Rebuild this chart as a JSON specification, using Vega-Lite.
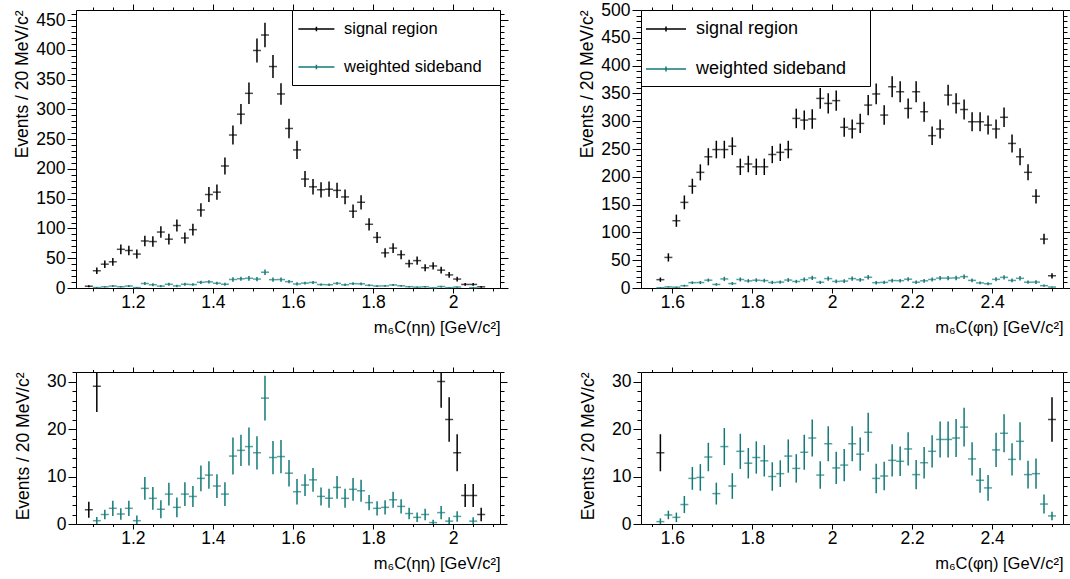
{
"$schema": "https://vega.github.io/schema/vega-lite/v6.json",
"background": "white",
"padding": {"left": 13, "top": 0, "right": 0, "bottom": 0},
"config": {
 "font": "Liberation Sans",
 "view": {"stroke": "#000000", "strokeWidth": 1},
 "axis": {"domain": false, "grid": false, "tickColor": "#000000", "labelColor": "#000000", "titleColor": "#000000", "labelFont": "Liberation Sans", "titleFont": "Liberation Sans", "labelFontSize": 17.5, "titleFontSize": 17.5, "titleFontWeight": "normal", "tickWidth": 1, "labelOverlap": false, "labelFlush": false},
 "legend": {"labelFont": "Liberation Sans", "labelColor": "#000000", "labelLimit": 300}
},
"datasets": {
"eta": [
{"m":1.09,"v":3,"e":1.7,"s":"S"},{"m":1.11,"v":29,"e":5.4,"s":"S"},{"m":1.13,"v":40,"e":6.3,"s":"S"},{"m":1.15,"v":44,"e":6.6,"s":"S"},{"m":1.17,"v":65,"e":8.1,"s":"S"},{"m":1.19,"v":63,"e":7.9,"s":"S"},{"m":1.21,"v":57,"e":7.5,"s":"S"},{"m":1.23,"v":79,"e":8.9,"s":"S"},{"m":1.25,"v":78,"e":8.8,"s":"S"},{"m":1.27,"v":94,"e":9.7,"s":"S"},{"m":1.29,"v":82,"e":9.1,"s":"S"},{"m":1.31,"v":105,"e":10.2,"s":"S"},{"m":1.33,"v":84,"e":9.2,"s":"S"},{"m":1.35,"v":98,"e":9.9,"s":"S"},{"m":1.37,"v":131,"e":11.4,"s":"S"},{"m":1.39,"v":157,"e":12.5,"s":"S"},{"m":1.41,"v":161,"e":12.7,"s":"S"},{"m":1.43,"v":205,"e":14.3,"s":"S"},{"m":1.45,"v":257,"e":16.0,"s":"S"},{"m":1.47,"v":292,"e":17.1,"s":"S"},{"m":1.49,"v":327,"e":18.1,"s":"S"},{"m":1.51,"v":399,"e":20.0,"s":"S"},{"m":1.53,"v":425,"e":20.6,"s":"S"},{"m":1.55,"v":372,"e":19.3,"s":"S"},{"m":1.57,"v":326,"e":18.1,"s":"S"},{"m":1.59,"v":268,"e":16.4,"s":"S"},{"m":1.61,"v":232,"e":15.2,"s":"S"},{"m":1.63,"v":183,"e":13.5,"s":"S"},{"m":1.65,"v":170,"e":13.0,"s":"S"},{"m":1.67,"v":165,"e":12.8,"s":"S"},{"m":1.69,"v":166,"e":12.9,"s":"S"},{"m":1.71,"v":164,"e":12.8,"s":"S"},{"m":1.73,"v":153,"e":12.4,"s":"S"},{"m":1.75,"v":129,"e":11.4,"s":"S"},{"m":1.77,"v":144,"e":12.0,"s":"S"},{"m":1.79,"v":107,"e":10.3,"s":"S"},{"m":1.81,"v":85,"e":9.2,"s":"S"},{"m":1.83,"v":59,"e":7.7,"s":"S"},{"m":1.85,"v":67,"e":8.2,"s":"S"},{"m":1.87,"v":56,"e":7.5,"s":"S"},{"m":1.89,"v":41,"e":6.4,"s":"S"},{"m":1.91,"v":46,"e":6.8,"s":"S"},{"m":1.93,"v":34,"e":5.8,"s":"S"},{"m":1.95,"v":37,"e":6.1,"s":"S"},{"m":1.97,"v":30,"e":5.5,"s":"S"},{"m":1.99,"v":22,"e":4.7,"s":"S"},{"m":2.01,"v":15,"e":3.9,"s":"S"},{"m":2.03,"v":6,"e":2.4,"s":"S"},{"m":2.05,"v":6,"e":2.4,"s":"S"},{"m":2.07,"v":2,"e":1.4,"s":"S"},
{"m":1.11,"v":0.7,"e":0.8,"s":"B"},{"m":1.13,"v":2.0,"e":1.0,"s":"B"},{"m":1.15,"v":3.3,"e":1.6,"s":"B"},{"m":1.17,"v":2.1,"e":1.2,"s":"B"},{"m":1.19,"v":3.3,"e":1.6,"s":"B"},{"m":1.21,"v":0.7,"e":1.1,"s":"B"},{"m":1.23,"v":7.5,"e":2.4,"s":"B"},{"m":1.25,"v":5.4,"e":2.4,"s":"B"},{"m":1.27,"v":3.1,"e":1.9,"s":"B"},{"m":1.29,"v":6.3,"e":2.4,"s":"B"},{"m":1.31,"v":3.5,"e":2.1,"s":"B"},{"m":1.33,"v":6.3,"e":2.5,"s":"B"},{"m":1.35,"v":5.8,"e":2.2,"s":"B"},{"m":1.37,"v":9.6,"e":2.7,"s":"B"},{"m":1.39,"v":10.3,"e":2.9,"s":"B"},{"m":1.41,"v":8.0,"e":2.5,"s":"B"},{"m":1.43,"v":6.3,"e":2.5,"s":"B"},{"m":1.45,"v":14.3,"e":3.9,"s":"B"},{"m":1.47,"v":15.5,"e":3.3,"s":"B"},{"m":1.49,"v":16.3,"e":4.0,"s":"B"},{"m":1.51,"v":15.0,"e":3.5,"s":"B"},{"m":1.53,"v":26.5,"e":4.7,"s":"B"},{"m":1.55,"v":14.0,"e":3.5,"s":"B"},{"m":1.57,"v":14.2,"e":3.5,"s":"B"},{"m":1.59,"v":10.7,"e":2.8,"s":"B"},{"m":1.61,"v":6.8,"e":2.7,"s":"B"},{"m":1.63,"v":8.2,"e":2.3,"s":"B"},{"m":1.65,"v":9.3,"e":2.5,"s":"B"},{"m":1.67,"v":5.8,"e":1.9,"s":"B"},{"m":1.69,"v":5.4,"e":2.0,"s":"B"},{"m":1.71,"v":7.7,"e":2.4,"s":"B"},{"m":1.73,"v":5.4,"e":2.0,"s":"B"},{"m":1.75,"v":7.3,"e":2.4,"s":"B"},{"m":1.77,"v":7.0,"e":2.3,"s":"B"},{"m":1.79,"v":4.5,"e":1.6,"s":"B"},{"m":1.81,"v":3.3,"e":1.5,"s":"B"},{"m":1.83,"v":3.5,"e":1.5,"s":"B"},{"m":1.85,"v":5.1,"e":1.7,"s":"B"},{"m":1.87,"v":3.7,"e":1.5,"s":"B"},{"m":1.89,"v":2.2,"e":1.2,"s":"B"},{"m":1.91,"v":1.4,"e":1.0,"s":"B"},{"m":1.93,"v":2.0,"e":1.2,"s":"B"},{"m":1.95,"v":0.3,"e":0.6,"s":"B"},{"m":1.97,"v":2.4,"e":1.4,"s":"B"},{"m":1.99,"v":0.6,"e":0.8,"s":"B"},{"m":2.01,"v":1.6,"e":1.1,"s":"B"},{"m":2.05,"v":0.6,"e":0.8,"s":"B"}
],
"phi": [
{"m":1.57,"v":15,"e":3.9,"s":"S"},{"m":1.59,"v":55,"e":7.4,"s":"S"},{"m":1.61,"v":121,"e":11.0,"s":"S"},{"m":1.63,"v":154,"e":12.4,"s":"S"},{"m":1.65,"v":183,"e":13.5,"s":"S"},{"m":1.67,"v":208,"e":14.4,"s":"S"},{"m":1.69,"v":236,"e":15.4,"s":"S"},{"m":1.71,"v":249,"e":15.8,"s":"S"},{"m":1.73,"v":249,"e":15.8,"s":"S"},{"m":1.75,"v":255,"e":16.0,"s":"S"},{"m":1.77,"v":218,"e":14.8,"s":"S"},{"m":1.79,"v":223,"e":14.9,"s":"S"},{"m":1.81,"v":218,"e":14.8,"s":"S"},{"m":1.83,"v":218,"e":14.8,"s":"S"},{"m":1.85,"v":240,"e":15.5,"s":"S"},{"m":1.87,"v":244,"e":15.6,"s":"S"},{"m":1.89,"v":249,"e":15.8,"s":"S"},{"m":1.91,"v":305,"e":17.5,"s":"S"},{"m":1.93,"v":302,"e":17.4,"s":"S"},{"m":1.95,"v":304,"e":17.4,"s":"S"},{"m":1.97,"v":341,"e":18.5,"s":"S"},{"m":1.99,"v":332,"e":18.2,"s":"S"},{"m":2.01,"v":337,"e":18.4,"s":"S"},{"m":2.03,"v":289,"e":17.0,"s":"S"},{"m":2.05,"v":286,"e":16.9,"s":"S"},{"m":2.07,"v":296,"e":17.2,"s":"S"},{"m":2.09,"v":329,"e":18.1,"s":"S"},{"m":2.11,"v":349,"e":18.7,"s":"S"},{"m":2.13,"v":311,"e":17.6,"s":"S"},{"m":2.15,"v":362,"e":19.0,"s":"S"},{"m":2.17,"v":353,"e":18.8,"s":"S"},{"m":2.19,"v":323,"e":18.0,"s":"S"},{"m":2.21,"v":353,"e":18.8,"s":"S"},{"m":2.23,"v":317,"e":17.8,"s":"S"},{"m":2.25,"v":274,"e":16.6,"s":"S"},{"m":2.27,"v":286,"e":16.9,"s":"S"},{"m":2.29,"v":347,"e":18.6,"s":"S"},{"m":2.31,"v":332,"e":18.2,"s":"S"},{"m":2.33,"v":321,"e":17.9,"s":"S"},{"m":2.35,"v":299,"e":17.3,"s":"S"},{"m":2.37,"v":299,"e":17.3,"s":"S"},{"m":2.39,"v":293,"e":17.1,"s":"S"},{"m":2.41,"v":286,"e":16.9,"s":"S"},{"m":2.43,"v":307,"e":17.5,"s":"S"},{"m":2.45,"v":260,"e":16.1,"s":"S"},{"m":2.47,"v":236,"e":15.4,"s":"S"},{"m":2.49,"v":208,"e":14.4,"s":"S"},{"m":2.51,"v":165,"e":12.8,"s":"S"},{"m":2.53,"v":88,"e":9.4,"s":"S"},{"m":2.55,"v":22,"e":4.7,"s":"S"},
{"m":1.57,"v":0.5,"e":0.7,"s":"B"},{"m":1.59,"v":1.9,"e":0.9,"s":"B"},{"m":1.61,"v":1.4,"e":1.0,"s":"B"},{"m":1.63,"v":4.1,"e":1.8,"s":"B"},{"m":1.65,"v":9.6,"e":2.4,"s":"B"},{"m":1.67,"v":9.8,"e":2.8,"s":"B"},{"m":1.69,"v":14.1,"e":3.0,"s":"B"},{"m":1.71,"v":6.4,"e":2.3,"s":"B"},{"m":1.73,"v":16.3,"e":3.9,"s":"B"},{"m":1.75,"v":8.0,"e":2.7,"s":"B"},{"m":1.77,"v":15.3,"e":3.7,"s":"B"},{"m":1.79,"v":12.8,"e":3.2,"s":"B"},{"m":1.81,"v":14.0,"e":3.4,"s":"B"},{"m":1.83,"v":13.3,"e":3.3,"s":"B"},{"m":1.85,"v":10.0,"e":3.0,"s":"B"},{"m":1.87,"v":10.6,"e":2.8,"s":"B"},{"m":1.89,"v":14.3,"e":3.5,"s":"B"},{"m":1.91,"v":11.7,"e":3.0,"s":"B"},{"m":1.93,"v":15.1,"e":3.7,"s":"B"},{"m":1.95,"v":18.1,"e":3.9,"s":"B"},{"m":1.97,"v":10.3,"e":2.9,"s":"B"},{"m":1.99,"v":16.9,"e":3.7,"s":"B"},{"m":2.01,"v":11.8,"e":3.4,"s":"B"},{"m":2.03,"v":12.4,"e":3.4,"s":"B"},{"m":2.05,"v":16.9,"e":3.7,"s":"B"},{"m":2.07,"v":14.7,"e":3.5,"s":"B"},{"m":2.09,"v":19.3,"e":4.1,"s":"B"},{"m":2.11,"v":9.6,"e":3.1,"s":"B"},{"m":2.13,"v":10.1,"e":3.0,"s":"B"},{"m":2.15,"v":13.4,"e":3.4,"s":"B"},{"m":2.17,"v":13.2,"e":3.1,"s":"B"},{"m":2.19,"v":15.8,"e":3.5,"s":"B"},{"m":2.21,"v":10.4,"e":3.1,"s":"B"},{"m":2.23,"v":12.9,"e":3.3,"s":"B"},{"m":2.25,"v":15.3,"e":3.4,"s":"B"},{"m":2.27,"v":17.8,"e":3.8,"s":"B"},{"m":2.29,"v":17.8,"e":3.8,"s":"B"},{"m":2.31,"v":18.1,"e":4.0,"s":"B"},{"m":2.33,"v":20.4,"e":4.1,"s":"B"},{"m":2.35,"v":13.7,"e":3.5,"s":"B"},{"m":2.37,"v":9.2,"e":2.6,"s":"B"},{"m":2.39,"v":7.6,"e":2.7,"s":"B"},{"m":2.41,"v":15.6,"e":3.6,"s":"B"},{"m":2.43,"v":19.1,"e":4.0,"s":"B"},{"m":2.45,"v":13.6,"e":3.4,"s":"B"},{"m":2.47,"v":17.4,"e":4.0,"s":"B"},{"m":2.49,"v":10.4,"e":2.9,"s":"B"},{"m":2.51,"v":10.6,"e":3.2,"s":"B"},{"m":2.53,"v":4.2,"e":2.0,"s":"B"},{"m":2.55,"v":1.7,"e":0.9,"s":"B"}
]
},
"columns": 2,
"align": "each",
"spacing": {"row": 29, "column": 69},
"concat": [
{
 "width": 424, "height": 278,
 "data": {"name": "eta"},
 "resolve": {"axis": {"x": "independent", "y": "independent"}},
 "layer": [
  {"transform": [{"filter": "datum.s=='S'"}],
   "mark": {"type": "errorbar", "thickness": 1.5},
   "encoding": {
    "x": {"field": "m", "type": "quantitative", "scale": {"domain": [1.058, 2.117], "nice": false, "zero": false}, "axis": {"orient": "bottom", "values": [1.2,1.4,1.6,1.8,2], "format": "~g", "tickSize": 5, "labelPadding": 0, "title": "m₆C(ηη) [GeV/c²]", "titleAnchor": "end", "titlePadding": 9, "titleFontSize": 16.5}},
    "y": {"field": "v", "type": "quantitative", "scale": {"domain": [0, 467], "nice": false}, "axis": {"orient": "left", "values": [0,50,100,150,200,250,300,350,400,450], "tickSize": 9, "labelPadding": 2, "title": "Events / 20 MeV/c²", "titleAnchor": "end", "titlePadding": 4}},
    "yError": {"field": "e"},
    "color": {"field": "s", "type": "nominal", "scale": {"domain": ["S","B"], "range": ["#000000","#127a78"]}, "legend": {"orient": "top-right", "offset": 0, "title": null, "fillColor": "white", "strokeColor": "#000000", "padding": 9, "symbolType": "M-1.4,0H2.6M0.6,-0.25V0.25", "symbolSize": 324, "symbolStrokeWidth": 1.5, "labelOffset": 23, "labelFontSize": 16.5, "labelLimit": 300, "rowPadding": 19, "labelExpr": "datum.value=='S'?'signal region':'weighted sideband  \u200b'"}}
   }},
  {"transform": [{"filter": "datum.s=='B'"}],
   "mark": {"type": "errorbar", "thickness": 1.5},
   "encoding": {
    "x": {"field": "m", "type": "quantitative", "scale": {"domain": [1.058, 2.117], "nice": false, "zero": false}, "axis": {"orient": "top", "values": [1.2,1.4,1.6,1.8,2], "tickSize": 6, "labels": false, "title": null}},
    "y": {"field": "v", "type": "quantitative", "scale": {"domain": [0, 467], "nice": false}, "axis": {"orient": "right", "values": [0,50,100,150,200,250,300,350,400,450], "tickSize": 8, "labels": false, "title": null}},
    "yError": {"field": "e"},
    "color": {"field": "s", "type": "nominal", "scale": {"domain": ["S","B"], "range": ["#000000","#127a78"]}, "legend": {"orient": "top-right", "offset": 0, "title": null, "fillColor": "white", "strokeColor": "#000000", "padding": 9, "symbolType": "M-1.4,0H2.6M0.6,-0.25V0.25", "symbolSize": 324, "symbolStrokeWidth": 1.5, "labelOffset": 23, "labelFontSize": 16.5, "labelLimit": 300, "rowPadding": 19, "labelExpr": "datum.value=='S'?'signal region':'weighted sideband  \u200b'"}}
   }},
  {"transform": [{"filter": "datum.s=='S'"}],
   "mark": {"type": "tick", "orient": "horizontal", "size": 8, "thickness": 1.5, "color": "#000000"},
   "encoding": {
    "x": {"field": "m", "type": "quantitative", "scale": {"domain": [1.058, 2.117], "nice": false, "zero": false}, "axis": {"orient": "bottom", "values": [1.1,1.15,1.25,1.3,1.35,1.45,1.5,1.55,1.65,1.7,1.75,1.85,1.9,1.95,2.05,2.1], "tickSize": 3, "labels": false, "title": null}},
    "y": {"field": "v", "type": "quantitative", "scale": {"domain": [0, 467], "nice": false}, "axis": {"orient": "left", "values": [10,20,30,40,60,70,80,90,110,120,130,140,160,170,180,190,210,220,230,240,260,270,280,290,310,320,330,340,360,370,380,390,410,420,430,440,460], "tickSize": 5, "labels": false, "title": null}}
   }},
  {"transform": [{"filter": "datum.s=='B'"}],
   "mark": {"type": "tick", "orient": "horizontal", "size": 8, "thickness": 1.5, "color": "#127a78"},
   "encoding": {
    "x": {"field": "m", "type": "quantitative", "scale": {"domain": [1.058, 2.117], "nice": false, "zero": false}, "axis": {"orient": "top", "values": [1.1,1.15,1.25,1.3,1.35,1.45,1.5,1.55,1.65,1.7,1.75,1.85,1.9,1.95,2.05,2.1], "tickSize": 3, "labels": false, "title": null}},
    "y": {"field": "v", "type": "quantitative", "scale": {"domain": [0, 467], "nice": false}, "axis": {"orient": "right", "values": [10,20,30,40,60,70,80,90,110,120,130,140,160,170,180,190,210,220,230,240,260,270,280,290,310,320,330,340,360,370,380,390,410,420,430,440,460], "tickSize": 4, "labels": false, "title": null}}
   }}
 ]
},
{
 "width": 422, "height": 278,
 "data": {"name": "phi"},
 "resolve": {"axis": {"x": "independent", "y": "independent"}},
 "layer": [
  {"transform": [{"filter": "datum.s=='S'"}],
   "mark": {"type": "errorbar", "thickness": 1.5},
   "encoding": {
    "x": {"field": "m", "type": "quantitative", "scale": {"domain": [1.5215, 2.5775], "nice": false, "zero": false}, "axis": {"orient": "bottom", "values": [1.6,1.8,2,2.2,2.4], "format": "~g", "tickSize": 5, "labelPadding": 0, "title": "m₆C(φη) [GeV/c²]", "titleAnchor": "end", "titlePadding": 9, "titleFontSize": 16.5}},
    "y": {"field": "v", "type": "quantitative", "scale": {"domain": [0, 500], "nice": false}, "axis": {"orient": "left", "values": [0,50,100,150,200,250,300,350,400,450,500], "tickSize": 9, "labelPadding": 2, "title": "Events / 20 MeV/c²", "titleAnchor": "end", "titlePadding": 4}},
    "yError": {"field": "e"},
    "color": {"field": "s", "type": "nominal", "scale": {"domain": ["S","B"], "range": ["#000000","#127a78"]}, "legend": {"orient": "top-left", "offset": 0, "title": null, "fillColor": "white", "strokeColor": "#000000", "padding": 8, "symbolType": "M-1.4,0H2.6M0.6,-0.25V0.25", "symbolSize": 400, "symbolStrokeWidth": 1.5, "labelOffset": 25, "labelFontSize": 18, "labelLimit": 300, "rowPadding": 20, "labelExpr": "datum.value=='S'?'signal region':'weighted sideband   \u200b'"}}
   }},
  {"transform": [{"filter": "datum.s=='B'"}],
   "mark": {"type": "errorbar", "thickness": 1.5},
   "encoding": {
    "x": {"field": "m", "type": "quantitative", "scale": {"domain": [1.5215, 2.5775], "nice": false, "zero": false}, "axis": {"orient": "top", "values": [1.6,1.8,2,2.2,2.4], "tickSize": 6, "labels": false, "title": null}},
    "y": {"field": "v", "type": "quantitative", "scale": {"domain": [0, 500], "nice": false}, "axis": {"orient": "right", "values": [0,50,100,150,200,250,300,350,400,450,500], "tickSize": 7, "labels": false, "title": null}},
    "yError": {"field": "e"},
    "color": {"field": "s", "type": "nominal", "scale": {"domain": ["S","B"], "range": ["#000000","#127a78"]}, "legend": {"orient": "top-left", "offset": 0, "title": null, "fillColor": "white", "strokeColor": "#000000", "padding": 8, "symbolType": "M-1.4,0H2.6M0.6,-0.25V0.25", "symbolSize": 400, "symbolStrokeWidth": 1.5, "labelOffset": 25, "labelFontSize": 18, "labelLimit": 300, "rowPadding": 20, "labelExpr": "datum.value=='S'?'signal region':'weighted sideband   \u200b'"}}
   }},
  {"transform": [{"filter": "datum.s=='S'"}],
   "mark": {"type": "tick", "orient": "horizontal", "size": 8, "thickness": 1.5, "color": "#000000"},
   "encoding": {
    "x": {"field": "m", "type": "quantitative", "scale": {"domain": [1.5215, 2.5775], "nice": false, "zero": false}, "axis": {"orient": "bottom", "values": [1.55,1.65,1.7,1.75,1.85,1.9,1.95,2.05,2.1,2.15,2.25,2.3,2.35,2.45,2.5,2.55], "tickSize": 3, "labels": false, "title": null}},
    "y": {"field": "v", "type": "quantitative", "scale": {"domain": [0, 500], "nice": false}, "axis": {"orient": "left", "values": [10,20,30,40,60,70,80,90,110,120,130,140,160,170,180,190,210,220,230,240,260,270,280,290,310,320,330,340,360,370,380,390,410,420,430,440,460,470,480,490], "tickSize": 5, "labels": false, "title": null}}
   }},
  {"transform": [{"filter": "datum.s=='B'"}],
   "mark": {"type": "tick", "orient": "horizontal", "size": 8, "thickness": 1.5, "color": "#127a78"},
   "encoding": {
    "x": {"field": "m", "type": "quantitative", "scale": {"domain": [1.5215, 2.5775], "nice": false, "zero": false}, "axis": {"orient": "top", "values": [1.55,1.65,1.7,1.75,1.85,1.9,1.95,2.05,2.1,2.15,2.25,2.3,2.35,2.45,2.5,2.55], "tickSize": 3, "labels": false, "title": null}},
    "y": {"field": "v", "type": "quantitative", "scale": {"domain": [0, 500], "nice": false}, "axis": {"orient": "right", "values": [10,20,30,40,60,70,80,90,110,120,130,140,160,170,180,190,210,220,230,240,260,270,280,290,310,320,330,340,360,370,380,390,410,420,430,440,460,470,480,490], "tickSize": 4, "labels": false, "title": null}}
   }}
 ]
},
{
 "width": 424, "height": 152,
 "data": {"name": "eta"},
 "transform": [{"filter": "datum.v <= 32"}],
 "resolve": {"axis": {"x": "independent", "y": "independent"}},
 "layer": [
  {"transform": [{"filter": "datum.s=='S'"}],
   "mark": {"type": "errorbar", "thickness": 1.5, "color": "#000000"},
   "encoding": {
    "x": {"field": "m", "type": "quantitative", "scale": {"domain": [1.058, 2.117], "nice": false, "zero": false}, "axis": {"orient": "bottom", "values": [1.2,1.4,1.6,1.8,2], "format": "~g", "tickSize": 5, "labelPadding": 0, "title": "m₆C(ηη) [GeV/c²]", "titleAnchor": "end", "titlePadding": 9, "titleFontSize": 16.5}},
    "y": {"field": "v", "type": "quantitative", "scale": {"domain": [0, 32], "nice": false, "clamp": true}, "axis": {"orient": "left", "values": [0,10,20,30], "tickSize": 8, "labelPadding": 2, "title": "Events / 20 MeV/c²", "titleAnchor": "end", "titlePadding": 14}},
    "yError": {"field": "e"}
   }},
  {"transform": [{"filter": "datum.s=='B'"}],
   "mark": {"type": "errorbar", "thickness": 1.5, "color": "#127a78"},
   "encoding": {
    "x": {"field": "m", "type": "quantitative", "scale": {"domain": [1.058, 2.117], "nice": false, "zero": false}, "axis": {"orient": "top", "values": [1.2,1.4,1.6,1.8,2], "tickSize": 5, "labels": false, "title": null}},
    "y": {"field": "v", "type": "quantitative", "scale": {"domain": [0, 32], "nice": false, "clamp": true}, "axis": {"orient": "right", "values": [0,10,20,30], "tickSize": 7, "labels": false, "title": null}},
    "yError": {"field": "e"}
   }},
  {"transform": [{"filter": "datum.s=='S'"}],
   "mark": {"type": "tick", "orient": "horizontal", "size": 8, "thickness": 1.5, "color": "#000000"},
   "encoding": {
    "x": {"field": "m", "type": "quantitative", "scale": {"domain": [1.058, 2.117], "nice": false, "zero": false}, "axis": {"orient": "bottom", "values": [1.1,1.15,1.25,1.3,1.35,1.45,1.5,1.55,1.65,1.7,1.75,1.85,1.9,1.95,2.05,2.1], "tickSize": 2.5, "labels": false, "title": null}},
    "y": {"field": "v", "type": "quantitative", "scale": {"domain": [0, 32], "nice": false, "clamp": true}, "axis": {"orient": "left", "values": [2,4,6,8,12,14,16,18,22,24,26,28,32], "tickSize": 4, "labels": false, "title": null}}
   }},
  {"transform": [{"filter": "datum.s=='B'"}],
   "mark": {"type": "tick", "orient": "horizontal", "size": 8, "thickness": 1.5, "color": "#127a78"},
   "encoding": {
    "x": {"field": "m", "type": "quantitative", "scale": {"domain": [1.058, 2.117], "nice": false, "zero": false}, "axis": {"orient": "top", "values": [1.1,1.15,1.25,1.3,1.35,1.45,1.5,1.55,1.65,1.7,1.75,1.85,1.9,1.95,2.05,2.1], "tickSize": 2.5, "labels": false, "title": null}},
    "y": {"field": "v", "type": "quantitative", "scale": {"domain": [0, 32], "nice": false, "clamp": true}, "axis": {"orient": "right", "values": [2,4,6,8,12,14,16,18,22,24,26,28,32], "tickSize": 4, "labels": false, "title": null}}
   }}
 ]
},
{
 "width": 422, "height": 152,
 "data": {"name": "phi"},
 "transform": [{"filter": "datum.v <= 32"}],
 "resolve": {"axis": {"x": "independent", "y": "independent"}},
 "layer": [
  {"transform": [{"filter": "datum.s=='S'"}],
   "mark": {"type": "errorbar", "thickness": 1.5, "color": "#000000"},
   "encoding": {
    "x": {"field": "m", "type": "quantitative", "scale": {"domain": [1.5215, 2.5775], "nice": false, "zero": false}, "axis": {"orient": "bottom", "values": [1.6,1.8,2,2.2,2.4], "format": "~g", "tickSize": 5, "labelPadding": 0, "title": "m₆C(φη) [GeV/c²]", "titleAnchor": "end", "titlePadding": 9, "titleFontSize": 16.5}},
    "y": {"field": "v", "type": "quantitative", "scale": {"domain": [0, 32], "nice": false, "clamp": true}, "axis": {"orient": "left", "values": [0,10,20,30], "tickSize": 8, "labelPadding": 2, "title": "Events / 20 MeV/c²", "titleAnchor": "end", "titlePadding": 14}},
    "yError": {"field": "e"}
   }},
  {"transform": [{"filter": "datum.s=='B'"}],
   "mark": {"type": "errorbar", "thickness": 1.5, "color": "#127a78"},
   "encoding": {
    "x": {"field": "m", "type": "quantitative", "scale": {"domain": [1.5215, 2.5775], "nice": false, "zero": false}, "axis": {"orient": "top", "values": [1.6,1.8,2,2.2,2.4], "tickSize": 5, "labels": false, "title": null}},
    "y": {"field": "v", "type": "quantitative", "scale": {"domain": [0, 32], "nice": false, "clamp": true}, "axis": {"orient": "right", "values": [0,10,20,30], "tickSize": 7, "labels": false, "title": null}},
    "yError": {"field": "e"}
   }},
  {"transform": [{"filter": "datum.s=='S'"}],
   "mark": {"type": "tick", "orient": "horizontal", "size": 8, "thickness": 1.5, "color": "#000000"},
   "encoding": {
    "x": {"field": "m", "type": "quantitative", "scale": {"domain": [1.5215, 2.5775], "nice": false, "zero": false}, "axis": {"orient": "bottom", "values": [1.55,1.65,1.7,1.75,1.85,1.9,1.95,2.05,2.1,2.15,2.25,2.3,2.35,2.45,2.5,2.55], "tickSize": 2.5, "labels": false, "title": null}},
    "y": {"field": "v", "type": "quantitative", "scale": {"domain": [0, 32], "nice": false, "clamp": true}, "axis": {"orient": "left", "values": [2,4,6,8,12,14,16,18,22,24,26,28,32], "tickSize": 4, "labels": false, "title": null}}
   }},
  {"transform": [{"filter": "datum.s=='B'"}],
   "mark": {"type": "tick", "orient": "horizontal", "size": 8, "thickness": 1.5, "color": "#127a78"},
   "encoding": {
    "x": {"field": "m", "type": "quantitative", "scale": {"domain": [1.5215, 2.5775], "nice": false, "zero": false}, "axis": {"orient": "top", "values": [1.55,1.65,1.7,1.75,1.85,1.9,1.95,2.05,2.1,2.15,2.25,2.3,2.35,2.45,2.5,2.55], "tickSize": 2.5, "labels": false, "title": null}},
    "y": {"field": "v", "type": "quantitative", "scale": {"domain": [0, 32], "nice": false, "clamp": true}, "axis": {"orient": "right", "values": [2,4,6,8,12,14,16,18,22,24,26,28,32], "tickSize": 4, "labels": false, "title": null}}
   }}
 ]
}
]
}
